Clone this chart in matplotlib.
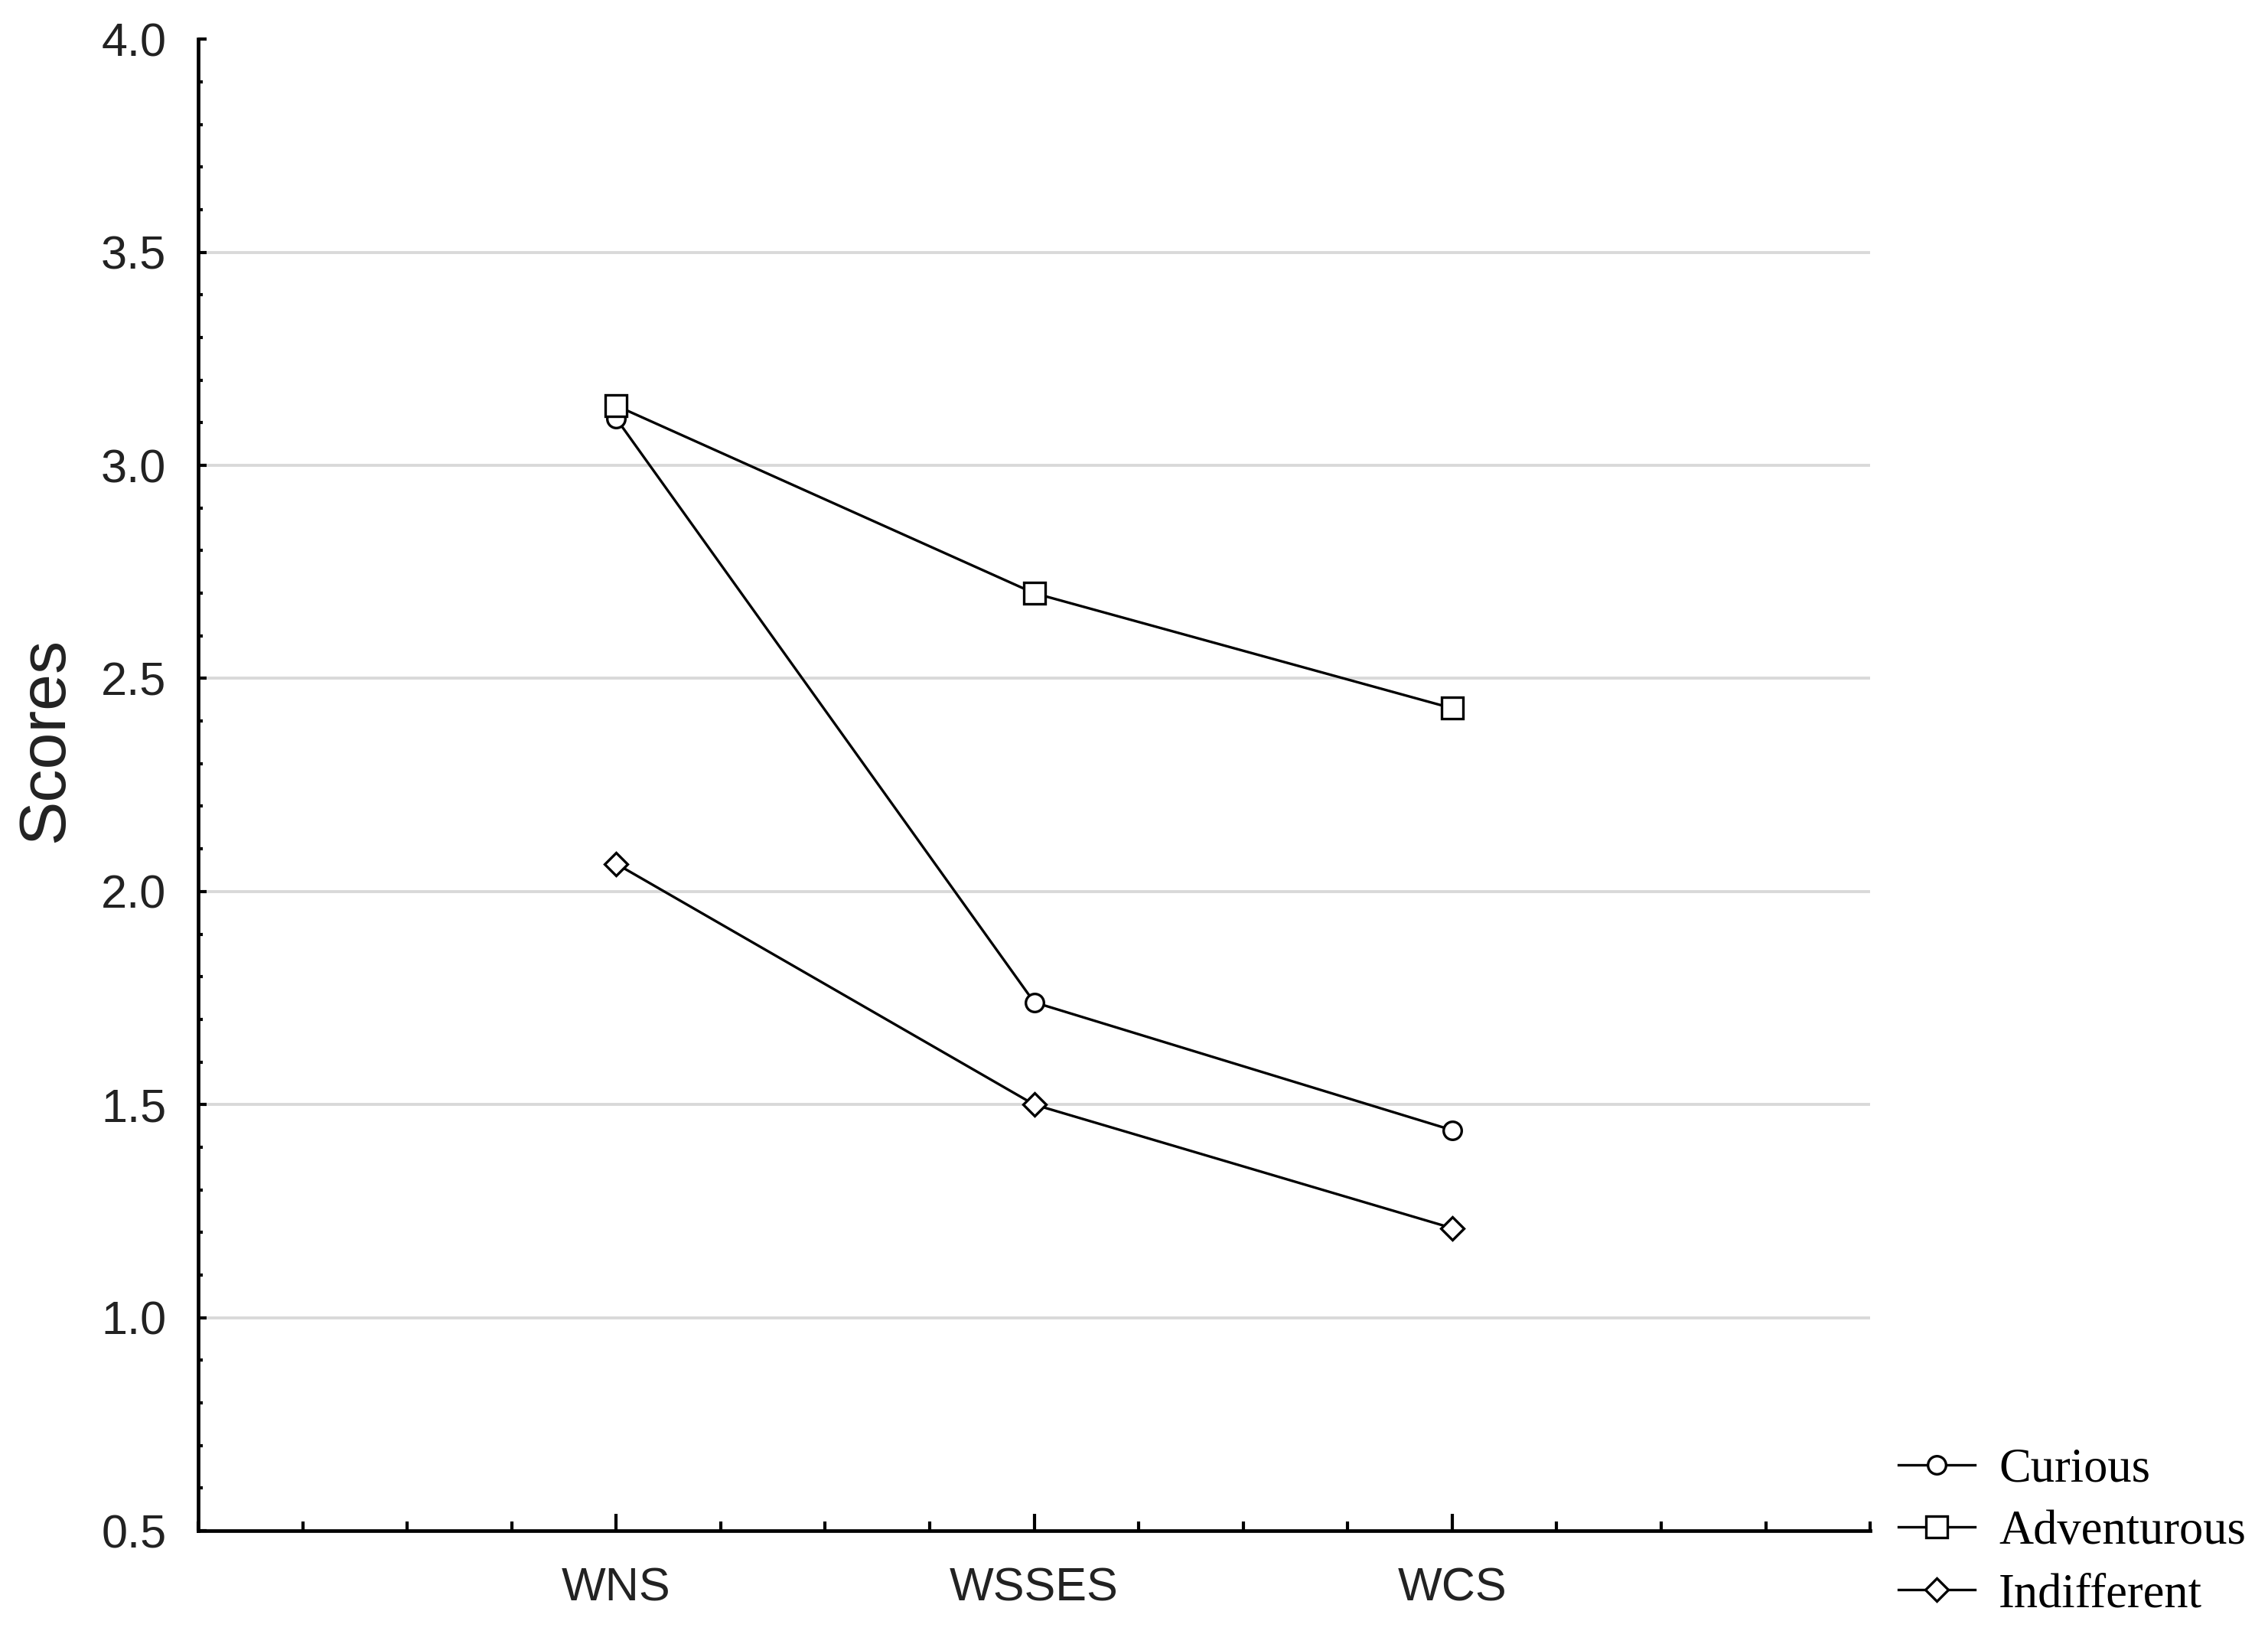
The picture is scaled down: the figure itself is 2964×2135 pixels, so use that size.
# Scores by scale for the three groups
import matplotlib.pyplot as plt
from matplotlib.ticker import MultipleLocator

# data
scales = ['WNS', 'WSSES', 'WCS']
curious = [3.11, 1.74, 1.44]
adventurous = [3.14, 2.70, 2.43]
indifferent = [2.065, 1.50, 1.21]

ink = '#222222'

fig = plt.figure(figsize=(14.82, 10.675), dpi=200)
ax = fig.add_axes([0.0874, 0.0632, 0.7372, 0.9128])

x = [1, 2, 3]
style = dict(color='black', lw=1.2, mfc='white', mec='black', mew=1.2)
ax.plot(x, curious, marker='o', ms=8.5, label='Curious', **style)
ax.plot(x, adventurous, marker='s', ms=10, label='Adventurous', **style)
ax.plot(x, indifferent, marker='D', ms=7.5, label='Indifferent', **style)

ax.set_xlim(0, 4)
ax.set_ylim(0.5, 4.0)
ax.set_xticks(x)
ax.set_xticklabels(scales, family='Liberation Sans', fontsize=22, color=ink)
ax.xaxis.set_minor_locator(MultipleLocator(0.25))
ax.yaxis.set_major_locator(MultipleLocator(0.5))
ax.yaxis.set_minor_locator(MultipleLocator(0.1))
ax.set_yticklabels([f'{v:.1f}' for v in ax.get_yticks()], family='Liberation Sans',
                   fontsize=22, color=ink)
ax.set_ylim(0.5, 4.0)

ax.tick_params(axis='x', which='major', direction='in', length=8, width=1.5, pad=17)
ax.tick_params(axis='x', which='minor', direction='in', length=4.5, width=1.5)
ax.tick_params(axis='y', which='major', direction='in', length=4, width=1.5, pad=15)
ax.tick_params(axis='y', which='minor', direction='in', length=2, width=1.5)

for s in ['top', 'right']:
    ax.spines[s].set_visible(False)
for s in ['left', 'bottom']:
    ax.spines[s].set_linewidth(1.7)

# light horizontal grid lines
for g in [1.0, 1.5, 2.0, 2.5, 3.0, 3.5]:
    ax.axhline(g, color='#d9d9d9', lw=1.4, zorder=0)

ax.set_ylabel('Scores', family='Liberation Sans', fontsize=31, color=ink, va='center')
ax.yaxis.set_label_coords(-0.091, 0.53)

fig.legend(loc='upper left', bbox_to_anchor=(0.837, 0.114), frameon=False,
           prop={'family': 'Liberation Serif', 'size': 22.5}, handlelength=1.6,
           handletextpad=0.5, labelspacing=0.38, borderpad=0, borderaxespad=0)

fig.savefig('out.png', dpi=200)
